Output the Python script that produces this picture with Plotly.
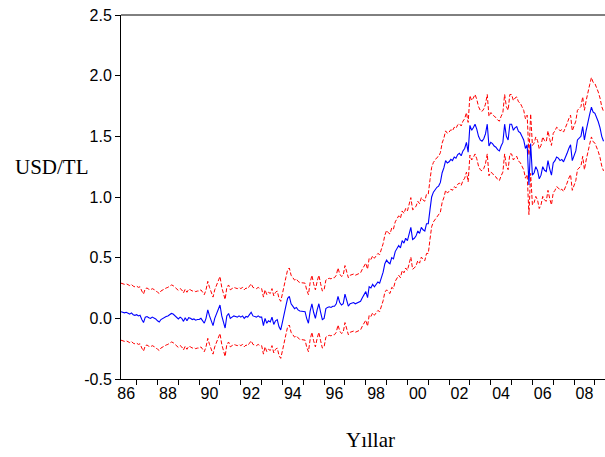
import pandas as pd
import plotly.graph_objects as go

# Monthly observations 1986M04 .. 2009M06
dates = pd.date_range("1986-04-01", periods=279, freq="MS")

forecast = [
    # 1986 (Apr-Dec)
    0.055, 0.05, 0.045, 0.05, 0.04, 0.035, 0.045, 0.03, 0.025,
    # 1987
    0.03, 0.02, 0.025, -0.01, -0.035, 0.01, 0.015, 0.005, 0.0, 0.01, 0.005, -0.005,
    # 1988
    -0.02, -0.03, -0.01, 0.0, 0.01, 0.015, 0.02, 0.03, 0.04, 0.035, 0.02, 0.01,
    # 1989
    -0.005, 0.01, 0.0, -0.025, 0.005, -0.02, 0.005, 0.0, -0.01, -0.005, -0.015, -0.01,
    # 1990
    -0.01, 0.0, -0.02, -0.04, 0.0, 0.07, 0.02, -0.02, -0.06, 0.0, 0.04, 0.08,
    # 1991
    0.11, 0.02, -0.03, -0.08, 0.02, 0.04, 0.0, 0.01, 0.02, 0.015, 0.01, 0.02,
    # 1992
    0.01, 0.02, 0.0, 0.015, 0.01, 0.03, 0.05, 0.02, 0.015, 0.01, 0.02, 0.01,
    # 1993
    0.01, -0.06, 0.0, -0.04, -0.02, -0.03, 0.01, -0.05, -0.02, -0.01, -0.07, -0.095,
    # 1994
    -0.03, 0.05, 0.1, 0.165, 0.18, 0.12, 0.1, 0.08, 0.09, 0.07, 0.06, 0.06,
    # 1995
    0.06, 0.055, 0.0, -0.04, 0.06, 0.12, 0.05, 0.0, 0.07, 0.12, 0.05, -0.01,
    # 1996
    0.0, 0.08, 0.09, 0.095, 0.09, 0.1, 0.1, 0.12, 0.18, 0.13, 0.11, 0.12,
    # 1997
    0.2, 0.14, 0.1, 0.12, 0.125, 0.13, 0.12, 0.125, 0.13, 0.14, 0.17, 0.2,
    # 1998
    0.22, 0.17, 0.26, 0.25, 0.28, 0.26, 0.28, 0.3, 0.29, 0.33, 0.38, 0.45,
    # 1999
    0.48, 0.46, 0.45, 0.5, 0.49, 0.55, 0.57, 0.6, 0.58, 0.64, 0.62, 0.66,
    # 2000
    0.64, 0.7, 0.75, 0.65, 0.66, 0.68, 0.72, 0.7, 0.75, 0.73, 0.72, 0.78,
    # 2001
    0.78, 0.9, 1.0, 1.04, 1.06, 1.08, 1.09, 1.12, 1.2, 1.24, 1.3, 1.28,
    # 2002
    1.29, 1.31, 1.3, 1.33, 1.32, 1.35, 1.36, 1.34, 1.38, 1.4, 1.45, 1.37,
    # 2003
    1.59, 1.55, 1.57, 1.6, 1.56, 1.5, 1.47, 1.46, 1.48, 1.52, 1.6, 1.42,
    # 2004
    1.45, 1.44, 1.42, 1.41, 1.39, 1.38, 1.42, 1.45, 1.6, 1.5, 1.47, 1.6,
    # 2005
    1.6, 1.55, 1.57, 1.58, 1.54, 1.53, 1.5, 1.47, 1.4, 1.43, 1.1, 1.44,
    # 2006
    1.18, 1.2, 1.25, 1.22, 1.15, 1.18, 1.25, 1.22, 1.21, 1.3, 1.23, 1.18,
    # 2007
    1.28, 1.3, 1.33, 1.32, 1.3, 1.31, 1.29, 1.32, 1.36, 1.4, 1.43, 1.3,
    # 2008
    1.34, 1.38, 1.47, 1.49, 1.5, 1.58, 1.47, 1.55, 1.63, 1.68, 1.74, 1.7,
    # 2009 (Jan-Jun)
    1.69, 1.66, 1.62, 1.57, 1.5, 1.46,
]

upper = [
    0.29, 0.285, 0.28, 0.285, 0.275, 0.27, 0.28, 0.265, 0.26,
    0.265, 0.255, 0.26, 0.225, 0.2, 0.245, 0.25, 0.24, 0.235, 0.245, 0.24, 0.23,
    0.215, 0.205, 0.225, 0.235, 0.245, 0.25, 0.255, 0.265, 0.275, 0.27, 0.255, 0.245,
    0.23, 0.245, 0.235, 0.21, 0.24, 0.215, 0.24, 0.235, 0.225, 0.23, 0.22, 0.225,
    0.225, 0.235, 0.215, 0.195, 0.235, 0.305, 0.255, 0.215, 0.175, 0.235, 0.275, 0.315,
    0.345, 0.255, 0.205, 0.155, 0.255, 0.275, 0.235, 0.245, 0.255, 0.25, 0.245, 0.255,
    0.245, 0.255, 0.235, 0.25, 0.245, 0.265, 0.285, 0.255, 0.25, 0.245, 0.255, 0.245,
    0.245, 0.175, 0.235, 0.195, 0.215, 0.205, 0.245, 0.185, 0.215, 0.225, 0.165, 0.14,
    0.205, 0.285, 0.335, 0.4, 0.415, 0.355, 0.335, 0.315, 0.325, 0.305, 0.295, 0.295,
    0.295, 0.29, 0.235, 0.195, 0.295, 0.355, 0.285, 0.235, 0.305, 0.355, 0.285, 0.225,
    0.235, 0.315, 0.325, 0.33, 0.325, 0.335, 0.335, 0.355, 0.415, 0.365, 0.345, 0.355,
    0.435, 0.375, 0.335, 0.355, 0.36, 0.365, 0.355, 0.36, 0.365, 0.375, 0.405, 0.435,
    0.455, 0.405, 0.495, 0.485, 0.515, 0.495, 0.515, 0.535, 0.525, 0.565, 0.615, 0.685,
    0.725, 0.705, 0.695, 0.745, 0.735, 0.795, 0.815, 0.845, 0.825, 0.885, 0.865, 0.905,
    0.885, 0.945, 0.995, 0.895, 0.905, 0.925, 0.965, 0.945, 0.995, 0.975, 0.965, 1.025,
    1.025, 1.145, 1.245, 1.285, 1.305, 1.325, 1.335, 1.365, 1.445, 1.485, 1.545, 1.525,
    1.535, 1.555, 1.545, 1.575, 1.565, 1.595, 1.605, 1.585, 1.625, 1.645, 1.695, 1.615,
    1.835, 1.795, 1.815, 1.845, 1.805, 1.745, 1.715, 1.705, 1.725, 1.765, 1.845, 1.665,
    1.695, 1.685, 1.665, 1.655, 1.635, 1.625, 1.665, 1.695, 1.845, 1.745, 1.715, 1.845,
    1.845, 1.795, 1.815, 1.825, 1.785, 1.775, 1.745, 1.715, 1.645, 1.675, 1.345, 1.685,
    1.425, 1.445, 1.495, 1.465, 1.395, 1.425, 1.495, 1.465, 1.455, 1.545, 1.475, 1.425,
    1.525, 1.545, 1.575, 1.565, 1.545, 1.555, 1.535, 1.565, 1.605, 1.645, 1.675, 1.545,
    1.585, 1.625, 1.715, 1.735, 1.745, 1.825, 1.715, 1.795, 1.875, 1.925, 1.985, 1.945,
    1.935, 1.905, 1.865, 1.815, 1.745, 1.705,
]

lower = [
    -0.18, -0.185, -0.19, -0.185, -0.195, -0.2, -0.19, -0.205, -0.21,
    -0.205, -0.215, -0.21, -0.245, -0.27, -0.225, -0.22, -0.23, -0.235, -0.225, -0.23, -0.24,
    -0.255, -0.265, -0.245, -0.235, -0.225, -0.22, -0.215, -0.205, -0.195, -0.2, -0.215, -0.225,
    -0.24, -0.225, -0.235, -0.26, -0.23, -0.255, -0.23, -0.235, -0.245, -0.24, -0.25, -0.245,
    -0.245, -0.235, -0.255, -0.275, -0.235, -0.165, -0.215, -0.255, -0.295, -0.235, -0.195, -0.155,
    -0.125, -0.215, -0.265, -0.315, -0.215, -0.195, -0.235, -0.225, -0.215, -0.22, -0.225, -0.215,
    -0.225, -0.215, -0.235, -0.22, -0.225, -0.205, -0.185, -0.215, -0.22, -0.225, -0.215, -0.225,
    -0.225, -0.295, -0.235, -0.275, -0.255, -0.265, -0.225, -0.285, -0.255, -0.245, -0.305, -0.33,
    -0.265, -0.185, -0.135, -0.07, -0.055, -0.115, -0.135, -0.155, -0.145, -0.165, -0.175, -0.175,
    -0.175, -0.18, -0.235, -0.275, -0.175, -0.115, -0.185, -0.235, -0.165, -0.115, -0.185, -0.245,
    -0.235, -0.155, -0.145, -0.14, -0.145, -0.135, -0.135, -0.115, -0.055, -0.105, -0.125, -0.115,
    -0.035, -0.095, -0.135, -0.115, -0.11, -0.105, -0.115, -0.11, -0.105, -0.095, -0.065, -0.035,
    -0.015, -0.065, 0.025, 0.015, 0.045, 0.025, 0.045, 0.065, 0.055, 0.095, 0.145, 0.215,
    0.235, 0.215, 0.205, 0.255, 0.245, 0.305, 0.325, 0.355, 0.335, 0.395, 0.375, 0.415,
    0.395, 0.455, 0.505, 0.405, 0.415, 0.435, 0.475, 0.455, 0.505, 0.485, 0.475, 0.535,
    0.535, 0.655, 0.755, 0.795, 0.815, 0.835, 0.845, 0.875, 0.955, 0.995, 1.055, 1.035,
    1.045, 1.065, 1.055, 1.085, 1.075, 1.105, 1.115, 1.095, 1.135, 1.155, 1.205, 1.125,
    1.345, 1.305, 1.325, 1.355, 1.315, 1.255, 1.225, 1.215, 1.235, 1.275, 1.355, 1.175,
    1.205, 1.195, 1.175, 1.165, 1.145, 1.135, 1.175, 1.205, 1.355, 1.255, 1.225, 1.355,
    1.355, 1.305, 1.325, 1.335, 1.295, 1.285, 1.255, 1.225, 1.155, 1.185, 0.855, 1.195,
    0.935, 0.955, 1.005, 0.975, 0.905, 0.935, 1.005, 0.975, 0.965, 1.055, 0.985, 0.935,
    1.035, 1.055, 1.085, 1.075, 1.055, 1.065, 1.045, 1.075, 1.115, 1.155, 1.185, 1.055,
    1.095, 1.135, 1.225, 1.245, 1.255, 1.335, 1.225, 1.305, 1.385, 1.435, 1.495, 1.455,
    1.445, 1.415, 1.375, 1.325, 1.255, 1.215,
]

x_tick_vals = [f"{y}-07-01" for y in range(1986, 2009, 2)]
x_tick_text = ["86", "88", "90", "92", "94", "96", "98", "00", "02", "04", "06", "08"]
y_tick_vals = [-0.5, 0.0, 0.5, 1.0, 1.5, 2.0, 2.5]
y_tick_text = ["-0.5", "0.0", "0.5", "1.0", "1.5", "2.0", "2.5"]

n = len(dates)
assert len(forecast) == n and len(upper) == n and len(lower) == n

fig = go.Figure()
fig.add_trace(go.Scatter(x=dates, y=upper, mode="lines",
                         line=dict(color="#FF0000", width=1, dash="4px,2px"),
                         showlegend=False, hoverinfo="skip"))
fig.add_trace(go.Scatter(x=dates, y=lower, mode="lines",
                         line=dict(color="#FF0000", width=1, dash="4px,2px"),
                         showlegend=False, hoverinfo="skip"))
fig.add_trace(go.Scatter(x=dates, y=forecast, mode="lines",
                         line=dict(color="#0000FF", width=1.1),
                         showlegend=False))

tick_font = dict(family="Liberation Sans, Arial, sans-serif", size=16, color="#000000")
title_font = dict(family="Liberation Serif, Times New Roman, serif", size=21, color="#000000")

fig.update_layout(
    width=605, height=457,
    margin=dict(l=121, r=0, t=15, b=78),
    paper_bgcolor="white", plot_bgcolor="white",
    showlegend=False,
    xaxis=dict(
        type="date",
        range=["1986-04-01", "2009-06-27"],
        tickmode="array", tickvals=x_tick_vals, ticktext=x_tick_text,
        ticks="", showgrid=False, zeroline=False,
        showline=True, linecolor="#000000", linewidth=1,
        tickfont=tick_font,
        minor=dict(tick0="1987-01-01", dtick="M12", ticks="outside",
                   ticklen=5, tickcolor="#000000", tickwidth=1, showgrid=False),
    ),
    yaxis=dict(
        range=[-0.5, 2.5],
        tickmode="array", tickvals=y_tick_vals, ticktext=y_tick_text,
        ticks="outside", ticklen=5, tickcolor="#000000",
        showgrid=False, zeroline=False,
        showline=True, linecolor="#000000", linewidth=1,
        tickfont=tick_font,
    ),
    shapes=[dict(type="line", xref="paper", yref="paper", x0=0, x1=1, y0=1, y1=1,
                 line=dict(color="#000000", width=1))],
    annotations=[
        dict(text="USD/TL", xref="paper", yref="paper",
             x=(52 - 121) / 484, y=(379 - 167) / 364,
             xanchor="center", yanchor="middle", showarrow=False, font=title_font),
        dict(text="Yıllar", xref="paper", yref="paper",
             x=(370 - 121) / 484, y=(379 - 440) / 364,
             xanchor="center", yanchor="middle", showarrow=False, font=title_font),
    ],
)

fig.write_html("out.html")
